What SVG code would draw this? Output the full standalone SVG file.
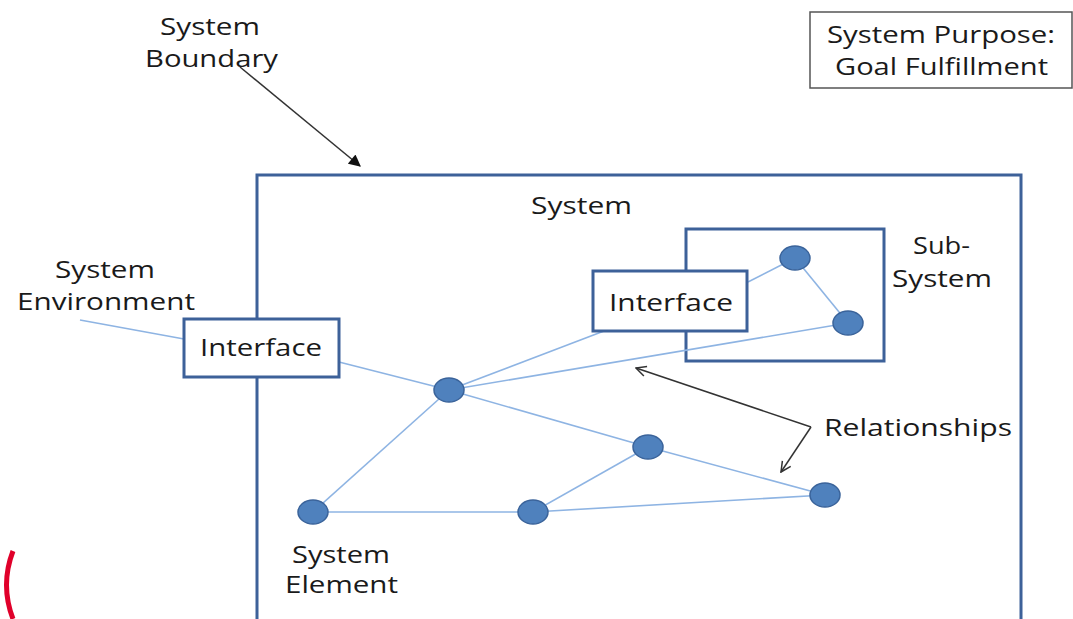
<svg xmlns="http://www.w3.org/2000/svg" width="1073" height="619" viewBox="0 0 1073 619">
  <defs>
    <style>
      .lbl { font-family: "Open Sans", "Liberation Sans", sans-serif; font-size: 23px; fill: #1a1a1a; }
      .box { fill: #fff; stroke: #3D6199; stroke-width: 3; }
      .rel { stroke: #8EB4E3; stroke-width: 1.6; fill: none; }
      .node { fill: #4F81BD; stroke: #3A639A; stroke-width: 1.5; }
      .ptr { stroke: #333; stroke-width: 1.5; fill: none; }
    </style>
    <marker id="fillArrow" viewBox="0 0 10 10" refX="9" refY="5" markerWidth="13" markerHeight="12" orient="auto" markerUnits="userSpaceOnUse">
      <path d="M0,0 L10,5 L0,10 z" fill="#111"/>
    </marker>
    <marker id="openArrow" viewBox="0 0 12 12" refX="11" refY="6" markerWidth="12" markerHeight="12" orient="auto" markerUnits="userSpaceOnUse">
      <path d="M1,1 L11,6 L1,11" fill="none" stroke="#333" stroke-width="1.5"/>
    </marker>
  </defs>
  <rect width="1073" height="619" fill="#fff"/>

  <g id="system">
    <rect class="box" x="257" y="175" width="764" height="470"/>
    <text class="lbl" x="531" y="214" textLength="101" lengthAdjust="spacingAndGlyphs">System</text>
  </g>

  <g id="subsystem">
    <rect class="box" x="686" y="229" width="198" height="132"/>
    <text class="lbl" x="913" y="254" textLength="57" lengthAdjust="spacingAndGlyphs">Sub-</text>
    <text class="lbl" x="892" y="287" textLength="100" lengthAdjust="spacingAndGlyphs">System</text>
  </g>

  <g id="connectors">
    <line class="rel" x1="80" y1="320" x2="184" y2="339"/>
    <line class="rel" x1="339" y1="362" x2="449" y2="390"/>
    <line class="rel" x1="449" y1="390" x2="604" y2="331"/>
    <line class="rel" x1="449" y1="390" x2="848" y2="323"/>
    <line class="rel" x1="449" y1="390" x2="648" y2="447"/>
    <line class="rel" x1="449" y1="390" x2="313" y2="512"/>
    <line class="rel" x1="313" y1="512" x2="533" y2="512"/>
    <line class="rel" x1="533" y1="512" x2="648" y2="447"/>
    <line class="rel" x1="533" y1="512" x2="825" y2="495"/>
    <line class="rel" x1="648" y1="447" x2="825" y2="495"/>
    <line class="rel" x1="748" y1="282" x2="795" y2="258"/>
    <line class="rel" x1="795" y1="258" x2="848" y2="323"/>
    <line class="ptr" x1="240" y1="67" x2="360" y2="166" stroke="#111" stroke-width="1.8" marker-end="url(#fillArrow)"/>
    <polyline class="ptr" points="811,427 636,368" marker-end="url(#openArrow)"/>
    <polyline class="ptr" points="811,427 781,472" marker-end="url(#openArrow)"/>
  </g>

  <g id="interface-left">
    <rect class="box" x="184" y="319" width="155" height="58"/>
    <text class="lbl" x="200" y="356" textLength="122" lengthAdjust="spacingAndGlyphs">Interface</text>
  </g>

  <g id="interface-right">
    <rect class="box" x="593" y="271" width="154" height="60"/>
    <text class="lbl" x="609" y="311" textLength="124" lengthAdjust="spacingAndGlyphs">Interface</text>
  </g>

  <g id="elements">
    <ellipse class="node" cx="449" cy="390" rx="15" ry="12"/>
    <ellipse class="node" cx="648" cy="447" rx="15" ry="12"/>
    <ellipse class="node" cx="825" cy="495" rx="15" ry="12"/>
    <ellipse class="node" cx="313" cy="512" rx="15" ry="12"/>
    <ellipse class="node" cx="533" cy="512" rx="15" ry="12"/>
    <ellipse class="node" cx="795" cy="258" rx="15" ry="12"/>
    <ellipse class="node" cx="848" cy="323" rx="15" ry="12"/>
  </g>

  <g id="purpose">
    <rect x="810" y="12" width="262" height="76" fill="#fff" stroke="#555" stroke-width="1.5"/>
    <text class="lbl" x="827" y="43" textLength="228" lengthAdjust="spacingAndGlyphs">System Purpose:</text>
    <text class="lbl" x="835" y="75" textLength="213" lengthAdjust="spacingAndGlyphs">Goal Fulfillment</text>
  </g>

  <g id="label-boundary">
    <text class="lbl" x="160" y="35" textLength="100" lengthAdjust="spacingAndGlyphs">System</text>
    <text class="lbl" x="145" y="67" textLength="133" lengthAdjust="spacingAndGlyphs">Boundary</text>
  </g>

  <g id="label-environment">
    <text class="lbl" x="55" y="278" textLength="100" lengthAdjust="spacingAndGlyphs">System</text>
    <text class="lbl" x="17" y="310" textLength="178" lengthAdjust="spacingAndGlyphs">Environment</text>
  </g>

  <g id="label-relationships">
    <text class="lbl" x="824" y="436" textLength="188" lengthAdjust="spacingAndGlyphs">Relationships</text>
  </g>

  <g id="label-element">
    <text class="lbl" x="292" y="563" textLength="98" lengthAdjust="spacingAndGlyphs">System</text>
    <text class="lbl" x="285" y="593" textLength="113" lengthAdjust="spacingAndGlyphs">Element</text>
  </g>

  <path d="M13,551 Q0,585 13,619" fill="none" stroke="#E0002A" stroke-width="5"/>
</svg>
